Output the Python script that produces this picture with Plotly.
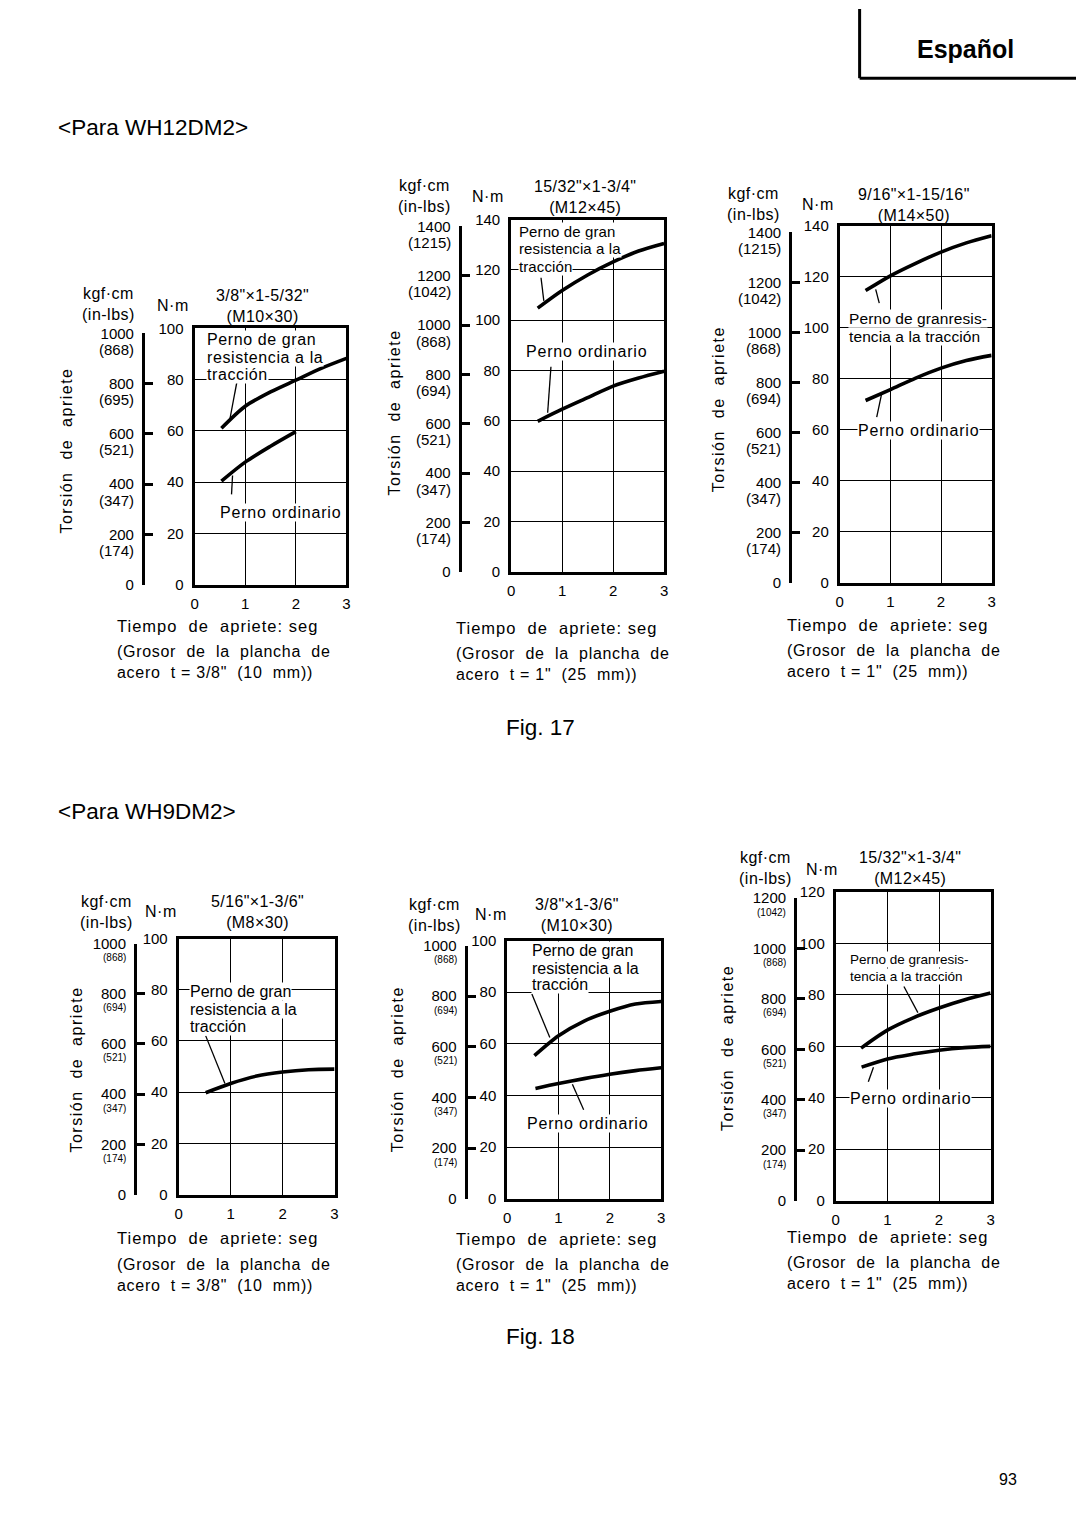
import plotly.graph_objects as go

W, H = 1080, 1529
FONT = "Liberation Sans, Arial, sans-serif"
KGF_TO_NM = 0.0980665

# ---------------- data ----------------
# Fig. 17  <Para WH12DM2>
p1_high_t = [0.53, 1.0, 1.5, 2.0, 2.5, 3.0]
p1_high_nm = [61.0, 69.6, 75.2, 79.8, 84.4, 88.3]
p1_ord_t = [0.53, 1.0, 1.5, 2.0]
p1_ord_nm = [40.4, 47.8, 54.0, 59.7]

p2_high_t = [0.52, 1.0, 1.5, 2.0, 2.5, 3.0]
p2_high_nm = [104.8, 111.8, 118.0, 123.2, 127.5, 130.5]
p2_ord_t = [0.52, 1.0, 1.5, 2.0, 2.5, 3.0]
p2_ord_nm = [59.8, 64.6, 69.2, 73.8, 77.0, 79.7]

p3_high_t = [0.51, 1.0, 1.5, 2.0, 2.5, 3.0]
p3_high_nm = [114.5, 120.3, 125.2, 129.6, 133.2, 136.0]
p3_ord_t = [0.51, 1.0, 1.5, 2.0, 2.5, 3.0]
p3_ord_nm = [71.4, 75.7, 80.2, 84.1, 87.1, 89.1]

# Fig. 18  <Para WH9DM2>
p4_high_t = [0.52, 1.0, 1.5, 2.0, 2.5, 3.0]
p4_high_nm = [39.8, 43.4, 46.3, 47.9, 48.8, 49.0]

p5_high_t = [0.53, 1.0, 1.5, 2.0, 2.5, 3.0]
p5_high_nm = [55.4, 63.1, 68.8, 72.6, 75.4, 76.4]
p5_ord_t = [0.55, 1.0, 1.5, 2.0, 2.5, 3.0]
p5_ord_nm = [42.7, 44.6, 46.5, 48.2, 49.6, 50.7]

p6_high_t = [0.49, 1.0, 1.5, 2.0, 2.5, 3.0]
p6_high_nm = [59.3, 66.3, 71.1, 74.9, 78.1, 80.7]
p6_ord_t = [0.50, 1.0, 1.5, 2.0, 2.5, 3.0]
p6_ord_nm = [51.9, 55.1, 57.0, 58.5, 59.5, 60.0]

time_ticks = [0, 1, 2, 3]
nm_ticks_100 = [0, 20, 40, 60, 80, 100]
nm_ticks_120 = [0, 20, 40, 60, 80, 100, 120]
nm_ticks_140 = [0, 20, 40, 60, 80, 100, 120, 140]
kgf_ticks_1000 = [0, 200, 400, 600, 800, 1000]
kgf_ticks_1200 = [0, 200, 400, 600, 800, 1000, 1200]
kgf_ticks_1400 = [0, 200, 400, 600, 800, 1000, 1200, 1400]
inlbs_p1 = ["", "174", "347", "521", "695", "868"]
inlbs_1000 = ["", "174", "347", "521", "694", "868"]
inlbs_1200 = ["", "174", "347", "521", "694", "868", "1042"]
inlbs_1400 = ["", "174", "347", "521", "694", "868", "1042", "1215"]

HIGH1 = "Perno de gran"
HIGH2 = "resistencia a la"
HIGH3 = "tracción"
HIGHB1 = "Perno de granresis-"
HIGHB2 = "tencia a la tracción"
ORD = "Perno ordinario"

NB = "\u00a0"


def ls(text, sp):
    return "<br>".join(
        f'<span style="letter-spacing:{sp}px">{line}</span>' for line in text.split("<br>")
    )


def px(x):
    return x / W


def py(y):
    return 1 - y / H


panels = [
    dict(box=(192, 323, 345, 582), nm=nm_ticks_100, kgf=kgf_ticks_1000, inlbs=inlbs_p1,
         bracket=140, psize=15, pdy=16,
         curves=[(p1_high_t, p1_high_nm), (p1_ord_t, p1_ord_nm)],
         labels=[(HIGH1, 0.22, 95.8, 16, 0.6), (HIGH2, 0.22, 88.5, 16, 0.6),
                 (HIGH3, 0.22, 81.9, 16, 0.6), (ORD, 0.48, 28.2, 16, 0.8)],
         leaders=[(0.84, 79.5, 0.70, 64.9), (0.73, 35.2, 0.75, 42.6)],
         kgf_hdr=(105, 298), nm_hdr=(170, 300), bolt="3/8\"×1-5/32\"<br>(M10×30)", bolt_xy=(260, 300),
         torsion=(62, 447), tiempo=(112, 624), grosor=(112, 660.5), plate="3/8\"" + NB + NB + "(10" + NB + NB + "mm))"),
    dict(box=(511, 213, 665, 569), nm=nm_ticks_140, kgf=kgf_ticks_1400, inlbs=inlbs_1400,
         bracket=459, psize=15, pdy=16,
         curves=[(p2_high_t, p2_high_nm), (p2_ord_t, p2_ord_nm)],
         labels=[(HIGH1, 0.14, 135.3, 15, 0.1), (HIGH2, 0.14, 128.7, 15, 0.1),
                 (HIGH3, 0.14, 121.5, 15, 0.1), (ORD, 0.27, 87.7, 16, 0.8)],
         leaders=[(0.585, 116.9, 0.64, 107.7), (0.78, 81.5, 0.715, 63.2)],
         kgf_hdr=(424, 189), nm_hdr=(488, 190), bolt="15/32\"×1-3/4\"<br>(M12×45)", bolt_xy=(585, 190),
         torsion=(393, 408), tiempo=(453, 626), grosor=(453, 662), plate="1\"" + NB + NB + "(25" + NB + NB + "mm))"),
    dict(box=(842, 219, 995, 580), nm=nm_ticks_140, kgf=kgf_ticks_1400, inlbs=inlbs_1400,
         bracket=792, psize=15, pdy=16,
         curves=[(p3_high_t, p3_high_nm), (p3_ord_t, p3_ord_nm)],
         labels=[(HIGHB1, 0.17, 103.6, 15.5, 0.1), (HIGHB2, 0.17, 96.5, 15.5, 0.1),
                 (ORD, 0.35, 59.5, 16, 0.8)],
         leaders=[(0.71, 115.0, 0.78, 109.6), (0.83, 74.3, 0.73, 64.9)],
         kgf_hdr=(755, 197), nm_hdr=(820, 198), bolt="9/16\"×1-15/16\"<br>(M14×50)", bolt_xy=(917, 198),
         torsion=(720, 405), tiempo=(787, 623), grosor=(787, 659.5), plate="1\"" + NB + NB + "(25" + NB + NB + "mm))"),
    dict(box=(176, 940, 333, 1199), nm=nm_ticks_100, kgf=kgf_ticks_1000, inlbs=inlbs_1000,
         bracket=132, psize=10, pdy=14,
         curves=[(p4_high_t, p4_high_nm)],
         labels=[(HIGH1, 0.19, 79.4, 16, 0), (HIGH2, 0.19, 72.3, 16, 0), (HIGH3, 0.19, 65.5, 16, 0)],
         leaders=[(0.52, 62.0, 0.89, 43.4)],
         kgf_hdr=(103, 913), nm_hdr=(158, 913), bolt="5/16\"×1-3/6\"<br>(M8×30)", bolt_xy=(255, 913),
         torsion=(73, 1072), tiempo=(112, 1243), grosor=(112, 1280), plate="3/8\"" + NB + NB + "(10" + NB + NB + "mm))"),
    dict(box=(507, 942, 662, 1203), nm=nm_ticks_100, kgf=kgf_ticks_1000, inlbs=inlbs_1000,
         bracket=465, psize=10, pdy=14,
         curves=[(p5_high_t, p5_high_nm), (p5_ord_t, p5_ord_nm)],
         labels=[(HIGH1, 0.46, 96.3, 16, 0), (HIGH2, 0.46, 89.3, 16, 0), (HIGH3, 0.46, 82.9, 16, 0),
                 (ORD, 0.37, 29.0, 16, 0.8)],
         leaders=[(0.48, 79.3, 0.83, 62.4), (1.27, 44.3, 1.49, 34.4)],
         kgf_hdr=(434, 916), nm_hdr=(491, 916), bolt="3/8\"×1-3/6\"<br>(M10×30)", bolt_xy=(577, 916),
         torsion=(396, 1072), tiempo=(453, 1244), grosor=(453, 1280.5), plate="1\"" + NB + NB + "(25" + NB + NB + "mm))"),
    dict(box=(838, 893, 994, 1205), nm=nm_ticks_120, kgf=kgf_ticks_1200, inlbs=inlbs_1200,
         bracket=797, psize=10, pdy=14,
         curves=[(p6_high_t, p6_high_nm), (p6_ord_t, p6_ord_nm)],
         labels=[(HIGHB1, 0.26, 93.6, 13.5, 0), (HIGHB2, 0.26, 87.2, 13.5, 0), (ORD, 0.26, 39.7, 16, 0.8)],
         leaders=[(1.32, 83.3, 1.59, 73.1), (0.63, 46.2, 0.73, 51.9)],
         kgf_hdr=(767, 869), nm_hdr=(824, 870), bolt="15/32\"×1-3/4\"<br>(M12×45)", bolt_xy=(913, 869),
         torsion=(729, 1051), tiempo=(787, 1242), grosor=(787, 1278), plate="1\"" + NB + NB + "(25" + NB + NB + "mm))"),
]

fig = go.Figure()
layout = dict(
    width=W, height=H, autosize=False,
    margin=dict(l=0, r=0, t=0, b=0),
    paper_bgcolor="white", plot_bgcolor="rgba(0,0,0,0)",
    showlegend=False, hovermode=False,
    font=dict(family=FONT, color="black", size=15),
)
annotations = []
shapes = []


def txt(x, y, text, size=16, xanchor="center", yanchor="middle", angle=0, **kw):
    annotations.append(dict(
        x=px(x), y=py(y), xref="paper", yref="paper", text=text, showarrow=False,
        xanchor=xanchor, yanchor=yanchor, textangle=angle, align=kw.pop("align", "center"),
        font=dict(family=FONT, size=size, color="black"), **kw))


for i, p in enumerate(panels, start=1):
    x0, y0, x1, y1 = p["box"]
    xk = "xaxis" if i == 1 else f"xaxis{i}"
    yk = "yaxis" if i == 1 else f"yaxis{i}"
    y2k = f"yaxis{i + 6}"
    xr = "x" if i == 1 else f"x{i}"
    yr = "y" if i == 1 else f"y{i}"
    y2r = f"y{i + 6}"
    ymax = p["nm"][-1]
    kmax = p["kgf"][-1]
    pxu = (y1 - y0) / ymax
    ktop = y1 - kmax * KGF_TO_NM * pxu

    layout[xk] = dict(
        domain=[px(x0), px(x1)], range=[0, 3], anchor=yr, tickvals=time_ticks,
        showgrid=True, gridcolor="black", gridwidth=1, zeroline=False,
        showline=True, mirror=True, linecolor="black", linewidth=3, ticks="",
        ticklabelstandoff=3, tickfont=dict(family=FONT, size=15, color="black"), fixedrange=True,
    )
    layout[yk] = dict(
        domain=[py(y1), py(y0)], range=[0, ymax], anchor=xr, tickvals=p["nm"],
        showgrid=True, gridcolor="black", gridwidth=1, zeroline=False,
        showline=True, mirror=True, linecolor="black", linewidth=3, ticks="",
        ticklabelstandoff=5, tickfont=dict(family=FONT, size=15, color="black"), fixedrange=True,
    )
    layout[y2k] = dict(
        domain=[py(y1), py(ktop)], range=[0, kmax], anchor="free", position=px(p["bracket"]),
        side="left", tickvals=p["kgf"], ticktext=[str(v) for v in p["kgf"]],
        showgrid=False, zeroline=False, showline=True, linecolor="black", linewidth=3,
        ticks="inside", ticklen=8, tickwidth=3, tickcolor="black", ticklabelstandoff=5,
        tickfont=dict(family=FONT, size=15, color="black"), fixedrange=True,
    )

    for t, v in p["curves"]:
        fig.add_trace(go.Scatter(
            x=t, y=v, mode="lines", xaxis=xr, yaxis=yr, hoverinfo="skip",
            line=dict(color="black", width=3.6, shape="spline", smoothing=0.8)))
    fig.add_trace(go.Scatter(x=[0], y=[0], mode="markers", xaxis=xr, yaxis=y2r,
                             marker=dict(size=1, opacity=0), hoverinfo="skip"))

    # in-lbs values beneath kgf·cm ticks
    for kv, il in zip(p["kgf"], p["inlbs"]):
        if not il:
            continue
        annotations.append(dict(
            x=px(p["bracket"] - 7), xref="paper", y=kv, yref=y2r, yshift=-p["pdy"],
            text=f"({il})", showarrow=False, xanchor="right", yanchor="middle",
            font=dict(family=FONT, size=p["psize"], color="black")))

    # curve labels
    for text, lx, lyv, size, sp in p["labels"]:
        annotations.append(dict(
            x=lx, y=lyv, xref=xr, yref=yr, text=ls(text, sp), showarrow=False,
            xanchor="left", yanchor="middle", bgcolor="white", borderpad=0,
            font=dict(family=FONT, size=size, color="black")))
    for (a, b, c, d) in p["leaders"]:
        shapes.append(dict(type="line", xref=xr, yref=yr, x0=a, y0=b, x1=c, y1=d,
                           line=dict(color="black", width=1.3)))

    # headers
    txt(*p["kgf_hdr"], ls("kgf·cm<br>(in-lbs)", 0.5), size=16)
    txt(*p["nm_hdr"], ls("N·m", 0.5), size=16)
    txt(*p["bolt_xy"], ls(p["bolt"], 0.4), size=16)
    # axis titles
    txt(*p["torsion"], ls("Torsión" + NB + NB + "de" + NB + NB + "apriete", 1.5), size=16, angle=-90)
    txt(*p["tiempo"], ls("Tiempo" + NB + NB + "de" + NB + NB + "apriete: seg", 1.0), size=16.5, xanchor="left")
    txt(*p["grosor"], ls("(Grosor" + NB + NB + "de" + NB + NB + "la" + NB + NB + "plancha" + NB + NB + "de<br>acero"
                         + NB + NB + "t = " + p["plate"], 0.7), size=16, xanchor="left", align="left")

# page texts
txt(52, 120, "&lt;Para WH12DM2&gt;", size=22.5, xanchor="left")
txt(540, 727, "Fig. 17", size=22.5)
txt(52, 812, "&lt;Para WH9DM2&gt;", size=22.5, xanchor="left")
txt(540, 1342, "Fig. 18", size=22.5)
txt(1011, 1487, "93", size=16)
txt(969, 40, "<b>Español</b>", size=25)
shapes.append(dict(type="line", xref="paper", yref="paper", x0=px(862), y0=py(0), x1=px(862), y1=py(70),
                   line=dict(color="black", width=3)))
shapes.append(dict(type="line", xref="paper", yref="paper", x0=px(862), y0=py(70), x1=px(1080), y1=py(70),
                   line=dict(color="black", width=3)))

layout["annotations"] = annotations
layout["shapes"] = shapes
fig.update_layout(**layout)
fig.write_html("out.html", config={"displayModeBar": False},
               post_script="document.body.style.margin='0';document.body.style.overflow='hidden';")
